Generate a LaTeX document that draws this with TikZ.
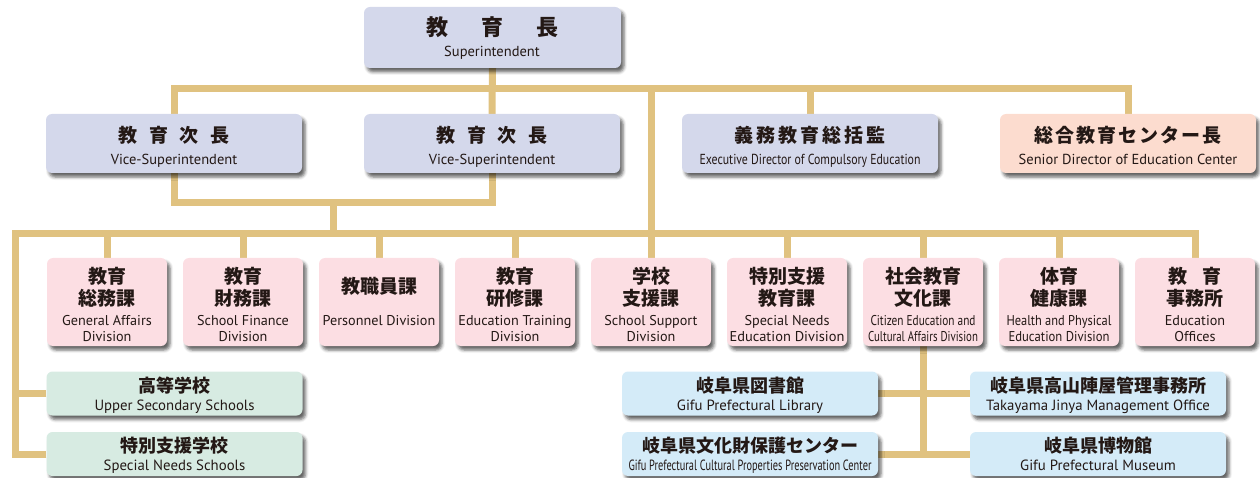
\documentclass[tikz,border=0pt]{standalone}
\usepackage{fontspec}
\usepackage{graphicx}
\newfontfamily\jpf{Noto Sans CJK JP}
\newfontfamily\enf{PT Sans}
\usetikzlibrary{shadows.blur,calc}
\pgfdeclarelayer{bg}
\pgfsetlayers{bg,main}
\definecolor{ln}{HTML}{E0C280}
\definecolor{lav}{HTML}{D4D8EB}
\definecolor{pk}{HTML}{FCDEE3}
\definecolor{gr}{HTML}{D7EBE2}
\definecolor{bl}{HTML}{D4EBF8}
\definecolor{og}{HTML}{FCDCCF}
\definecolor{tx}{HTML}{231815}
\newcommand\jpL{\jpf\bfseries\fontsize{22}{24}\selectfont}
\newcommand\jpM{\jpf\bfseries\fontsize{19}{22}\selectfont}
\newcommand\jpS{\jpf\bfseries\fontsize{18}{20}\selectfont}
\newcommand\enL{\enf\fontsize{14.5}{16}\selectfont}
\newcommand\enM{\enf\fontsize{14.2}{15}\selectfont}
\newcommand\enS{\enf\fontsize{14.8}{16}\selectfont}
\newcommand\fitw[2]{\resizebox{#1}{\height}{#2}}
\tikzset{
  bx/.style={rectangle, rounded corners=6pt, inner sep=0pt, draw=none,
    blur shadow={shadow xshift=3pt, shadow yshift=-4pt, shadow blur radius=3pt, shadow opacity=60}},
  wire/.style={draw=ln, line width=7pt},
  jt/.style={text=tx, inner sep=0pt, anchor=center},
  et/.style={text=tx, inner sep=0pt, anchor=base},
}
\newcommand\divbox[6]{%
  \node[bx, fill=pk, minimum width=120pt, minimum height=88pt] (#1) at (#2,302) {};
  \node[jt, font=\jpM] (#1a) at (#2,276) {#3};
  \node[jt, font=\jpM] (#1b) at (#2,298) {#4};
  \node[et, font=\enM] (#1c) at (#2,325) {#5};
  \node[et, font=\enM] (#1d) at (#2,341) {#6};
}
\newcommand\lowbox[6]{%
  \node[bx, fill=#2, minimum width=256pt, minimum height=44pt] (#1) at (#3,#4) {};
  \node[jt, font=\jpS] (#1a) at (#3,#4-8) {#5};
  \node[et, font=\enS] (#1b) at (#3,#4+16.5) {#6};
}
\begin{document}
\begin{tikzpicture}[x=1pt,y=-1pt]
\useasboundingbox (0,0) rectangle (1260,478);
% top
\node[bx, fill=lav, minimum width=257pt, minimum height=61pt] (sup) at (492.5,37.5) {};
\node[jt, font=\jpL] (supa) at (492,27) {教\hspace{1.5em}育\hspace{1.5em}長};
\node[et, font=\enL] (supb) at (492,57) {Superintendent};
% second row
\node[bx, fill=lav, minimum width=256pt, minimum height=59pt] (v1) at (174,143.5) {};
\node[jt, font=\jpM] (v1a) at (174,135) {教\hspace{0.62em}育\hspace{0.62em}次\hspace{0.62em}長};
\node[et, font=\enL] (v1b) at (174,165) {Vice-Superintendent};
\node[bx, fill=lav, minimum width=256pt, minimum height=59pt] (v2) at (492,143.5) {};
\node[jt, font=\jpM] (v2a) at (492,135) {教\hspace{0.62em}育\hspace{0.62em}次\hspace{0.62em}長};
\node[et, font=\enL] (v2b) at (492,165) {Vice-Superintendent};
\node[bx, fill=lav, minimum width=256pt, minimum height=59pt] (ex) at (810,143.5) {};
\node[jt, font=\jpM] (exa) at (810,135) {義\hspace{0.16em}務\hspace{0.16em}教\hspace{0.16em}育\hspace{0.16em}総\hspace{0.16em}括\hspace{0.16em}監};
\node[et, font=\enL] (exb) at (810,165) {\fitw{221pt}{Executive Director of Compulsory Education}};
\node[bx, fill=og, minimum width=256pt, minimum height=59pt] (sen) at (1128,143.5) {};
\node[jt, font=\jpM] (sena) at (1128,135) {総\hspace{0.1em}合\hspace{0.1em}教\hspace{0.1em}育\hspace{0.1em}セ\hspace{0.1em}ン\hspace{0.1em}タ\hspace{0.1em}ー\hspace{0.1em}長};
\node[et, font=\enL] (senb) at (1128,165) {Senior Director of Education Center};
% divisions
\divbox{d1}{107}{教育}{総務課}{General Affairs}{Division}
\divbox{d2}{243}{教育}{財務課}{School Finance}{Division}
\node[bx, fill=pk, minimum width=120pt, minimum height=88pt] (d3) at (379,302) {};
\node[jt, font=\jpM] (d3a) at (379,286) {教職員課};
\node[et, font=\enM] (d3b) at (379,325) {Personnel Division};
\divbox{d4}{515}{教育}{研修課}{Education Training}{Division}
\divbox{d5}{651}{学校}{支援課}{School Support}{Division}
\divbox{d6}{787}{特別支援}{教育課}{Special Needs}{\fitw{115pt}{Education Division}}
\divbox{d7}{923}{社会教育}{文化課}{\fitw{105pt}{Citizen Education and}}{\fitw{110pt}{Cultural Affairs Division}}
\divbox{d8}{1059}{体育}{健康課}{\fitw{105pt}{Health and Physical}}{\fitw{101pt}{Education Division}}
\divbox{d9}{1195}{教\hspace{0.8em}育}{事務所}{Education}{Offices}
% lower boxes
\lowbox{hs}{gr}{174.5}{393.5}{高等学校}{Upper Secondary Schools}
\lowbox{sn}{gr}{174.5}{454}{特別支援学校}{Special Needs Schools}
\lowbox{lib}{bl}{750}{393.5}{岐阜県図書館}{Gifu Prefectural Library}
\lowbox{pres}{bl}{750}{454}{岐阜県文化財保護センター}{\fitw{243pt}{Gifu Prefectural Cultural Properties Preservation Center}}
\lowbox{tak}{bl}{1098}{393.5}{岐阜県高山陣屋管理事務所}{Takayama Jinya Management Office}
\lowbox{mus}{bl}{1098}{454}{岐阜県博物館}{Gifu Prefectural Museum}
% wires
\coordinate (b1) at (0,89);
\coordinate (b3) at (0,203);
\coordinate (b2) at (0,234);
\coordinate (lx) at (15,0);
\coordinate (mid) at (333,203);
\begin{pgfonlayer}{bg}
\draw[wire] (sup.south) -- (v2.north);
\draw[wire] (v1.north) -- (v1.north |- b1) -- (sen.north |- b1) -- (sen.north);
\draw[wire] (ex.north |- b1) -- (ex.north);
\draw[wire] (d5.north |- b1) -- (d5.north);
\draw[wire] (v1.south) -- (v1.south |- b3) -- (v2.south |- b3) -- (v2.south);
\draw[wire] (mid) -- (mid |- b2);
\draw[wire] (sn.west) -- (lx |- sn.west) -- (lx |- b2) -- (d9.north |- b2) -- (d9.north);
\draw[wire] (hs.west) -- (lx |- hs.west);
\foreach \d in {d1,d2,d3,d4,d6,d7,d8} {\draw[wire] (\d.north |- b2) -- (\d.north);}
\draw[wire] (d7.south) -- (d7.south |- pres.east);
\draw[wire] (lib.east) -- (tak.west);
\draw[wire] (pres.east) -- (mus.west);
\end{pgfonlayer}
\end{tikzpicture}
\end{document}
